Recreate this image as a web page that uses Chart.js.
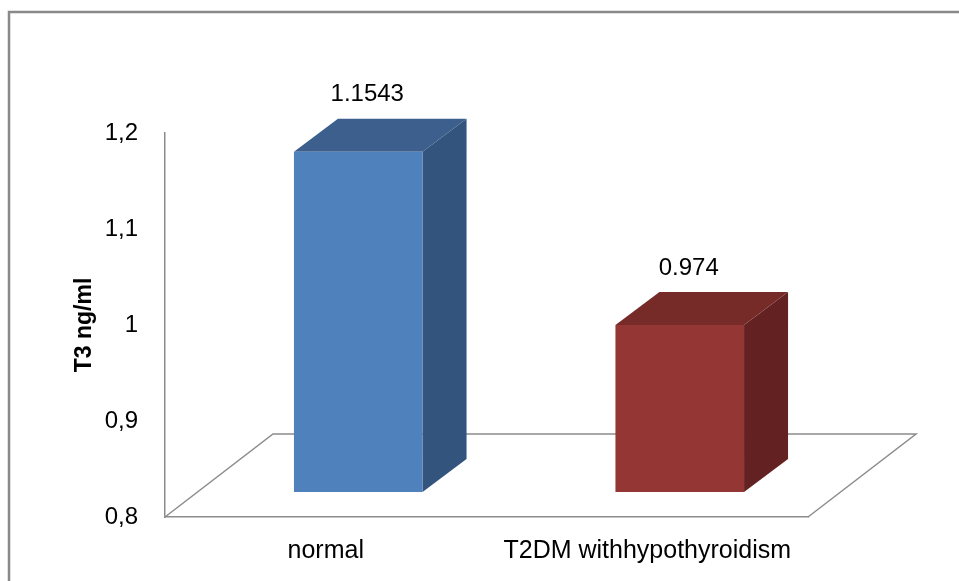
<!DOCTYPE html>
<html>
<head>
<meta charset="utf-8">
<script src="https://cdn.jsdelivr.net/npm/chart.js@4.4.1/dist/chart.umd.min.js"></script>
<style>
  html, body { margin: 0; padding: 0; background: #ffffff; }
  #wrap { width: 959px; height: 581px; position: relative; }
</style>
</head>
<body>
<div id="wrap"><canvas id="c" width="959" height="581"></canvas></div>
<script>
// ---- data ----
const categories = ['normal', 'T2DM withhypothyroidism'];
const t3Values = [1.1543, 0.974];
const valueLabels = ['1.1543', '0.974'];
const yTickLabels = ['0,8', '0,9', '1', '1,1', '1,2'];
const yTitle = 'T3 ng/ml';

// ---- styles ----
const FONT = '"Liberation Sans", Arial, sans-serif';
const frontColors = ['#4F81BD', '#943634'];
const topColors = ['#3D5F8E', '#772B29'];
const sideColors = ['#33547D', '#632221'];
const lineGray = '#8C8C8C';
const FLOOR_DEPTH = { dx: 108, dy: 83 };   // floor depth in screen px
const BAR_FRONT = { dx: 32.5, dy: 25 };    // bar front plane offset
const BAR_DEPTH = { dx: 44, dy: 33 };      // bar thickness

const threeD = {
  id: 'threeD',
  beforeDraw(chart) {
    const ctx = chart.ctx;
    ctx.save();
    ctx.fillStyle = '#ffffff';
    ctx.fillRect(0, 0, chart.width, chart.height);
    ctx.strokeStyle = '#898989';
    ctx.lineWidth = 2.5;
    ctx.strokeRect(9, 12, chart.width + 20, chart.height + 20);
    ctx.restore();
  },
  beforeDatasetsDraw(chart) {
    const ctx = chart.ctx;
    const a = chart.chartArea;
    ctx.save();
    ctx.strokeStyle = lineGray;
    ctx.lineWidth = 1.5;
    ctx.beginPath();
    ctx.moveTo(a.left, a.bottom);
    ctx.lineTo(a.left + FLOOR_DEPTH.dx, a.bottom - FLOOR_DEPTH.dy);
    ctx.lineTo(a.right + FLOOR_DEPTH.dx, a.bottom - FLOOR_DEPTH.dy);
    ctx.lineTo(a.right, a.bottom);
    ctx.stroke();
    const meta = chart.getDatasetMeta(0);
    meta.data.forEach((bar, i) => {
      const p = bar.getProps(['x', 'y', 'base', 'width'], true);
      const l = p.x - p.width / 2 + BAR_FRONT.dx;
      const r = p.x + p.width / 2 + BAR_FRONT.dx;
      const t = p.y - BAR_FRONT.dy;
      const b = p.base - BAR_FRONT.dy;
      ctx.fillStyle = sideColors[i];
      ctx.beginPath();
      ctx.moveTo(r, t);
      ctx.lineTo(r + BAR_DEPTH.dx, t - BAR_DEPTH.dy);
      ctx.lineTo(r + BAR_DEPTH.dx, b - BAR_DEPTH.dy);
      ctx.lineTo(r, b);
      ctx.closePath();
      ctx.fill();
      ctx.fillStyle = topColors[i];
      ctx.beginPath();
      ctx.moveTo(l, t);
      ctx.lineTo(l + BAR_DEPTH.dx, t - BAR_DEPTH.dy);
      ctx.lineTo(r + BAR_DEPTH.dx, t - BAR_DEPTH.dy);
      ctx.lineTo(r, t);
      ctx.closePath();
      ctx.fill();
      ctx.fillStyle = frontColors[i];
      ctx.fillRect(l, t, r - l, b - t);
    });
    ctx.restore();
  },
  afterDatasetsDraw(chart) {
    const ctx = chart.ctx;
    const meta = chart.getDatasetMeta(0);
    ctx.save();
    ctx.fillStyle = '#000000';
    ctx.font = '24px ' + FONT;
    ctx.textAlign = 'center';
    ctx.textBaseline = 'middle';
    meta.data.forEach((bar, i) => {
      const p = bar.getProps(['x', 'y'], true);
      const x = p.x + BAR_FRONT.dx + 9;
      const y = p.y - BAR_FRONT.dy - BAR_DEPTH.dy - 24;
      ctx.fillText(valueLabels[i], x, y);
    });
    ctx.restore();
  }
};

new Chart(document.getElementById('c'), {
  type: 'bar',
  data: {
    labels: categories,
    datasets: [{
      data: t3Values,
      backgroundColor: 'rgba(0,0,0,0)',
      borderWidth: 0,
      barPercentage: 0.4,
      categoryPercentage: 1.0,
      base: 0.8
    }]
  },
  options: {
    responsive: false,
    animation: false,
    events: [],
    layout: { padding: { left: 67, right: 151, top: 133, bottom: 0 } },
    plugins: { legend: { display: false }, tooltip: { enabled: false } },
    scales: {
      x: {
        offset: true,
        grid: { display: false, drawTicks: false },
        border: { display: true, color: lineGray, width: 1.5 },
        ticks: { color: '#000000', font: { family: FONT, size: 25 }, padding: 19, maxRotation: 0, autoSkip: false },
        afterFit(s) { s.height = 64; }
      },
      y: {
        min: 0.8,
        max: 1.2,
        grid: { display: false, drawTicks: false },
        border: { display: true, color: lineGray, width: 1.5 },
        ticks: {
          stepSize: 0.1,
          color: '#000000',
          font: { family: FONT, size: 24 },
          padding: 27,
          callback: (v, i) => yTickLabels[i]
        },
        title: {
          display: true,
          text: yTitle,
          color: '#000000',
          font: { family: FONT, size: 23, weight: 'bold' },
          padding: { top: 4, bottom: 0 }
        },
        afterFit(s) { s.width = 98; }
      }
    }
  },
  plugins: [threeD]
});
</script>
</body>
</html>
